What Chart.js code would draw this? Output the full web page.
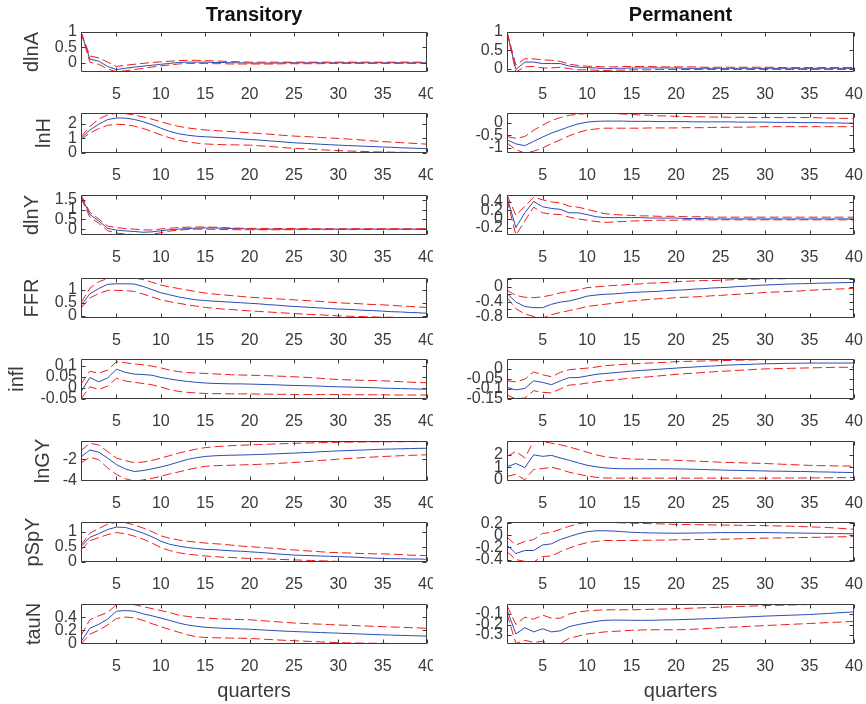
<!DOCTYPE html>
<html>
<head>
<meta charset="utf-8">
<title>Impulse responses: transitory vs permanent</title>
<script src="https://cdn.jsdelivr.net/npm/chart.js"></script>
<style>
  body { margin: 0; background: #fff; }
  #fig { position: relative; width: 866px; height: 704px; overflow: hidden; background: #fff; }
  #fig canvas { position: absolute; }
</style>
</head>
<body>
<div id="fig"></div>
<script>
// x axis
const quarters = [1, 2, 3, 4, 5, 6, 7, 8, 9, 10, 11, 12, 13, 14, 15, 16, 17, 18, 19, 20,
  21, 22, 23, 24, 25, 26, 27, 28, 29, 30, 31, 32, 33, 34, 35, 36, 37, 38, 39, 40];
const quarterTicks = [5, 10, 15, 20, 25, 30, 35, 40];
const columnTitles = ['Transitory', 'Permanent'];

// ---- Transitory shock: median (mid) and bands (up / lo) ----
const trDlnA = [1.00, 0.12, 0.05, -0.12, -0.22, -0.18, -0.14, -0.11, -0.08, -0.05,
  -0.02, 0.01, 0.02, 0.02, 0.02, 0.01, 0.01, 0.00, 0.00, -0.01,
  -0.01, -0.01, -0.01, 0.00, 0.00, 0.00, 0.00, 0.00, 0.00, 0.00,
  0.00, 0.00, 0.00, 0.00, 0.00, 0.00, 0.00, 0.00, 0.00, 0.00];
const trDlnAUp = [1.00, 0.22, 0.16, 0.02, -0.12, -0.08, -0.05, -0.02, 0.01, 0.03,
  0.05, 0.07, 0.08, 0.08, 0.07, 0.06, 0.05, 0.04, 0.03, 0.02,
  0.02, 0.02, 0.02, 0.02, 0.02, 0.02, 0.02, 0.02, 0.02, 0.02,
  0.02, 0.02, 0.02, 0.02, 0.02, 0.02, 0.02, 0.02, 0.02, 0.02];
const trDlnALo = [1.00, 0.02, -0.05, -0.20, -0.29, -0.26, -0.22, -0.18, -0.14, -0.10,
  -0.07, -0.04, -0.02, -0.02, -0.02, -0.03, -0.03, -0.04, -0.04, -0.04,
  -0.04, -0.04, -0.04, -0.03, -0.03, -0.03, -0.03, -0.03, -0.02, -0.02,
  -0.02, -0.02, -0.02, -0.02, -0.02, -0.02, -0.02, -0.02, -0.02, -0.02];

const trLnH = [1.00, 1.55, 1.95, 2.27, 2.38, 2.37, 2.28, 2.12, 1.92, 1.68,
  1.46, 1.30, 1.20, 1.13, 1.09, 1.06, 1.03, 0.99, 0.95, 0.91,
  0.87, 0.82, 0.78, 0.73, 0.68, 0.65, 0.62, 0.58, 0.55, 0.52,
  0.49, 0.47, 0.44, 0.42, 0.39, 0.37, 0.34, 0.32, 0.30, 0.27];
const trLnHUp = [1.10, 1.80, 2.30, 2.60, 2.70, 2.68, 2.58, 2.45, 2.30, 2.12,
  1.95, 1.80, 1.70, 1.62, 1.56, 1.52, 1.48, 1.44, 1.40, 1.36,
  1.32, 1.28, 1.23, 1.18, 1.14, 1.11, 1.08, 1.04, 1.01, 0.98,
  0.94, 0.90, 0.85, 0.80, 0.76, 0.73, 0.69, 0.66, 0.62, 0.59];
const trLnHLo = [0.90, 1.35, 1.65, 1.88, 1.95, 1.92, 1.82, 1.66, 1.45, 1.22,
  1.02, 0.85, 0.74, 0.66, 0.60, 0.57, 0.55, 0.54, 0.53, 0.52,
  0.48, 0.44, 0.39, 0.34, 0.30, 0.27, 0.23, 0.20, 0.17, 0.14,
  0.12, 0.10, 0.08, 0.06, 0.05, 0.04, 0.03, 0.02, 0.01, 0.00];

const trDlnY = [1.68, 0.75, 0.42, 0.04, -0.05, -0.09, -0.12, -0.16, -0.14, -0.08,
  -0.03, 0.00, 0.03, 0.05, 0.06, 0.06, 0.05, 0.03, 0.02, 0.01,
  0.00, 0.00, 0.00, 0.00, 0.00, 0.00, 0.00, 0.00, 0.00, 0.00,
  0.00, 0.00, 0.00, 0.00, 0.00, 0.00, 0.00, 0.00, 0.00, 0.00];
const trDlnYUp = [1.75, 0.86, 0.52, 0.16, 0.08, 0.03, 0.00, -0.04, -0.04, 0.01,
  0.05, 0.08, 0.10, 0.11, 0.11, 0.10, 0.08, 0.06, 0.05, 0.04,
  0.04, 0.03, 0.03, 0.03, 0.03, 0.03, 0.02, 0.02, 0.02, 0.02,
  0.02, 0.02, 0.02, 0.02, 0.02, 0.02, 0.02, 0.02, 0.02, 0.02];
const trDlnYLo = [1.60, 0.62, 0.30, -0.08, -0.20, -0.25, -0.28, -0.30, -0.27, -0.18,
  -0.10, -0.05, -0.02, 0.00, 0.00, -0.01, -0.02, -0.03, -0.03, -0.03,
  -0.03, -0.03, -0.03, -0.03, -0.03, -0.02, -0.02, -0.02, -0.02, -0.02,
  -0.02, -0.02, -0.02, -0.02, -0.01, -0.01, -0.01, -0.01, -0.01, -0.01];

const trFFR = [0.39, 0.84, 1.04, 1.20, 1.22, 1.22, 1.21, 1.12, 1.00, 0.88,
  0.80, 0.72, 0.66, 0.61, 0.58, 0.56, 0.54, 0.52, 0.50, 0.48,
  0.46, 0.43, 0.41, 0.38, 0.36, 0.34, 0.32, 0.30, 0.28, 0.26,
  0.25, 0.23, 0.21, 0.20, 0.18, 0.16, 0.15, 0.13, 0.12, 0.10];
const trFFRUp = [0.50, 1.05, 1.30, 1.42, 1.44, 1.44, 1.44, 1.38, 1.28, 1.17,
  1.10, 1.04, 0.98, 0.92, 0.87, 0.83, 0.80, 0.77, 0.74, 0.71,
  0.69, 0.67, 0.65, 0.63, 0.61, 0.59, 0.57, 0.55, 0.52, 0.50,
  0.48, 0.47, 0.45, 0.43, 0.42, 0.40, 0.38, 0.36, 0.34, 0.32];
const trFFRLo = [0.30, 0.68, 0.85, 0.97, 0.97, 0.96, 0.93, 0.83, 0.72, 0.61,
  0.54, 0.48, 0.42, 0.37, 0.32, 0.29, 0.26, 0.24, 0.21, 0.19,
  0.17, 0.15, 0.13, 0.11, 0.09, 0.07, 0.05, 0.04, 0.02, 0.00,
  -0.01, -0.02, -0.03, -0.04, -0.05, -0.05, -0.06, -0.07, -0.07, -0.08];

const trInfl = [-0.018, 0.047, 0.027, 0.045, 0.084, 0.070, 0.062, 0.060, 0.057, 0.047,
  0.040, 0.034, 0.029, 0.025, 0.022, 0.020, 0.019, 0.018, 0.018, 0.017,
  0.016, 0.015, 0.014, 0.012, 0.011, 0.010, 0.009, 0.008, 0.006, 0.005,
  0.004, 0.003, 0.002, 0.001, -0.001, -0.002, -0.003, -0.004, -0.005, -0.006];
const trInflUp = [0.017, 0.075, 0.066, 0.080, 0.117, 0.113, 0.108, 0.104, 0.098, 0.090,
  0.080, 0.073, 0.069, 0.067, 0.065, 0.063, 0.061, 0.059, 0.058, 0.057,
  0.056, 0.055, 0.053, 0.052, 0.050, 0.048, 0.046, 0.043, 0.040, 0.038,
  0.036, 0.035, 0.034, 0.033, 0.032, 0.030, 0.028, 0.026, 0.024, 0.023];
const trInflLo = [-0.050, 0.005, -0.007, 0.008, 0.043, 0.031, 0.025, 0.020, 0.014, 0.004,
  -0.008, -0.016, -0.020, -0.023, -0.025, -0.026, -0.026, -0.027, -0.027, -0.027,
  -0.028, -0.028, -0.029, -0.029, -0.030, -0.030, -0.030, -0.030, -0.030, -0.030,
  -0.031, -0.031, -0.031, -0.031, -0.031, -0.032, -0.032, -0.032, -0.032, -0.032];

const trLnGY = [-1.78, -1.10, -1.31, -1.87, -2.50, -2.90, -3.15, -3.06, -2.90, -2.72,
  -2.50, -2.25, -2.00, -1.84, -1.72, -1.66, -1.62, -1.60, -1.58, -1.56,
  -1.53, -1.50, -1.47, -1.43, -1.40, -1.36, -1.32, -1.27, -1.23, -1.19,
  -1.16, -1.13, -1.10, -1.06, -1.03, -1.01, -0.99, -0.97, -0.95, -0.94];
const trLnGYUp = [-1.16, -0.47, -0.63, -1.25, -1.87, -2.12, -2.30, -2.25, -2.10, -1.88,
  -1.64, -1.40, -1.20, -1.02, -0.88, -0.80, -0.74, -0.69, -0.65, -0.62,
  -0.59, -0.56, -0.53, -0.50, -0.47, -0.45, -0.43, -0.41, -0.39, -0.37,
  -0.36, -0.35, -0.34, -0.33, -0.33, -0.32, -0.32, -0.31, -0.31, -0.30];
const trLnGYLo = [-2.34, -1.78, -2.03, -2.81, -3.44, -3.84, -4.05, -3.95, -3.80, -3.60,
  -3.38, -3.19, -2.98, -2.80, -2.66, -2.60, -2.57, -2.55, -2.52, -2.50,
  -2.47, -2.43, -2.39, -2.34, -2.29, -2.23, -2.17, -2.10, -2.04, -1.97,
  -1.92, -1.87, -1.82, -1.77, -1.72, -1.69, -1.65, -1.62, -1.59, -1.56];

const trPSpY = [0.50, 0.81, 0.93, 1.07, 1.15, 1.14, 1.05, 0.95, 0.83, 0.68,
  0.58, 0.52, 0.47, 0.44, 0.41, 0.40, 0.38, 0.36, 0.35, 0.33,
  0.31, 0.29, 0.26, 0.24, 0.22, 0.21, 0.20, 0.19, 0.18, 0.17,
  0.16, 0.15, 0.13, 0.12, 0.11, 0.10, 0.10, 0.09, 0.09, 0.08];
const trPSpYUp = [0.55, 0.95, 1.10, 1.25, 1.31, 1.30, 1.22, 1.12, 1.00, 0.86,
  0.78, 0.72, 0.68, 0.65, 0.62, 0.60, 0.58, 0.55, 0.52, 0.50,
  0.48, 0.46, 0.44, 0.41, 0.39, 0.37, 0.35, 0.33, 0.31, 0.30,
  0.29, 0.28, 0.27, 0.26, 0.26, 0.25, 0.24, 0.22, 0.21, 0.20];
const trPSpYLo = [0.40, 0.70, 0.80, 0.90, 0.97, 0.93, 0.85, 0.75, 0.62, 0.47,
  0.37, 0.30, 0.25, 0.22, 0.19, 0.17, 0.15, 0.14, 0.12, 0.11,
  0.10, 0.09, 0.08, 0.07, 0.06, 0.05, 0.04, 0.03, 0.02, 0.01,
  0.00, 0.00, 0.00, 0.00, 0.00, 0.00, 0.00, 0.00, 0.00, 0.00];

const trTauN = [0.025, 0.23, 0.29, 0.37, 0.49, 0.50, 0.49, 0.45, 0.42, 0.385,
  0.35, 0.31, 0.28, 0.26, 0.245, 0.237, 0.23, 0.225, 0.22, 0.215,
  0.208, 0.20, 0.193, 0.186, 0.18, 0.175, 0.17, 0.165, 0.16, 0.155,
  0.15, 0.145, 0.14, 0.135, 0.13, 0.126, 0.122, 0.118, 0.114, 0.11];
const trTauNUp = [0.12, 0.36, 0.42, 0.47, 0.59, 0.60, 0.59, 0.56, 0.53, 0.50,
  0.47, 0.43, 0.41, 0.395, 0.385, 0.378, 0.372, 0.366, 0.363, 0.36,
  0.35, 0.34, 0.33, 0.32, 0.31, 0.304, 0.298, 0.292, 0.286, 0.28,
  0.275, 0.27, 0.265, 0.26, 0.255, 0.25, 0.245, 0.24, 0.235, 0.23];
const trTauNLo = [-0.01, 0.14, 0.20, 0.28, 0.38, 0.40, 0.39, 0.35, 0.30, 0.255,
  0.21, 0.17, 0.13, 0.10, 0.09, 0.085, 0.082, 0.08, 0.078, 0.075,
  0.068, 0.06, 0.053, 0.046, 0.04, 0.034, 0.028, 0.022, 0.016, 0.01,
  0.007, 0.005, 0.003, 0.001, 0.00, -0.002, -0.004, -0.006, -0.008, -0.01];

// ---- Permanent shock ----
const peDlnA = [1.00, -0.02, 0.18, 0.18, 0.14, 0.14, 0.14, 0.07, 0.04, 0.03,
  0.02, 0.00, 0.01, 0.01, 0.02, 0.02, 0.02, 0.02, 0.02, 0.02,
  0.01, 0.01, 0.01, 0.01, 0.01, 0.01, 0.01, 0.01, 0.01, 0.01,
  0.01, 0.01, 0.01, 0.01, 0.01, 0.01, 0.01, 0.01, 0.01, 0.01];
const peDlnAUp = [1.00, 0.10, 0.27, 0.27, 0.24, 0.23, 0.20, 0.12, 0.09, 0.07,
  0.06, 0.05, 0.05, 0.06, 0.06, 0.06, 0.06, 0.05, 0.05, 0.05,
  0.05, 0.05, 0.04, 0.04, 0.04, 0.04, 0.04, 0.04, 0.04, 0.04,
  0.04, 0.03, 0.03, 0.03, 0.03, 0.03, 0.03, 0.03, 0.03, 0.03];
const peDlnALo = [1.00, -0.09, 0.05, 0.06, 0.02, 0.02, 0.04, 0.00, -0.03, -0.03,
  -0.04, -0.05, -0.04, -0.04, -0.03, -0.03, -0.03, -0.02, -0.02, -0.02,
  -0.02, -0.02, -0.02, -0.02, -0.02, -0.02, -0.02, -0.02, -0.02, -0.02,
  -0.02, -0.02, -0.02, -0.02, -0.02, -0.02, -0.02, -0.02, -0.02, -0.02];

const peLnH = [-0.68, -0.84, -0.91, -0.74, -0.57, -0.41, -0.29, -0.16, -0.05, 0.02,
  0.05, 0.06, 0.06, 0.06, 0.05, 0.05, 0.05, 0.04, 0.04, 0.04,
  0.04, 0.03, 0.03, 0.03, 0.03, 0.03, 0.02, 0.02, 0.02, 0.02,
  0.01, 0.01, 0.01, 0.00, 0.00, 0.00, -0.01, -0.01, -0.02, -0.02];
const peLnHUp = [-0.55, -0.62, -0.55, -0.30, -0.10, 0.08, 0.20, 0.29, 0.33, 0.36,
  0.37, 0.37, 0.36, 0.34, 0.32, 0.30, 0.29, 0.27, 0.26, 0.25,
  0.24, 0.23, 0.23, 0.22, 0.22, 0.21, 0.21, 0.21, 0.20, 0.20,
  0.20, 0.20, 0.20, 0.20, 0.20, 0.19, 0.18, 0.17, 0.17, 0.16];
const peLnHLo = [-0.80, -1.07, -1.20, -1.13, -1.00, -0.83, -0.68, -0.52, -0.39, -0.29,
  -0.25, -0.22, -0.22, -0.22, -0.22, -0.22, -0.21, -0.21, -0.21, -0.21,
  -0.20, -0.20, -0.20, -0.19, -0.19, -0.18, -0.18, -0.18, -0.17, -0.16,
  -0.16, -0.16, -0.16, -0.16, -0.16, -0.16, -0.16, -0.16, -0.16, -0.16];

const peDlnY = [0.50, -0.20, 0.14, 0.40, 0.28, 0.24, 0.22, 0.14, 0.14, 0.10,
  0.05, 0.03, 0.03, 0.03, 0.03, 0.03, 0.02, 0.02, 0.02, 0.02,
  0.01, 0.01, 0.01, 0.00, 0.00, 0.00, 0.00, 0.00, 0.00, 0.00,
  0.00, 0.00, 0.00, 0.00, 0.00, 0.00, 0.00, 0.00, 0.00, 0.00];
const peDlnYUp = [0.55, 0.08, 0.29, 0.50, 0.44, 0.39, 0.37, 0.29, 0.27, 0.22,
  0.17, 0.12, 0.10, 0.09, 0.08, 0.07, 0.07, 0.06, 0.06, 0.06,
  0.05, 0.05, 0.05, 0.04, 0.04, 0.04, 0.04, 0.04, 0.04, 0.04,
  0.04, 0.04, 0.04, 0.04, 0.04, 0.04, 0.04, 0.04, 0.04, 0.04];
const peDlnYLo = [0.45, -0.37, -0.05, 0.27, 0.14, 0.11, 0.10, 0.04, 0.00, -0.03,
  -0.06, -0.08, -0.07, -0.06, -0.05, -0.04, -0.04, -0.03, -0.03, -0.03,
  -0.02, -0.02, -0.02, -0.02, -0.02, -0.02, -0.02, -0.02, -0.02, -0.02,
  -0.02, -0.02, -0.02, -0.02, -0.02, -0.02, -0.02, -0.02, -0.02, -0.02];

const peFFR = [-0.18, -0.41, -0.53, -0.56, -0.56, -0.47, -0.41, -0.38, -0.32, -0.25,
  -0.22, -0.20, -0.19, -0.17, -0.15, -0.14, -0.13, -0.12, -0.10, -0.09,
  -0.08, -0.06, -0.05, -0.03, -0.02, -0.01, 0.01, 0.02, 0.04, 0.05,
  0.06, 0.07, 0.08, 0.085, 0.09, 0.10, 0.105, 0.11, 0.115, 0.12];
const peFFRUp = [-0.09, -0.23, -0.28, -0.29, -0.27, -0.22, -0.16, -0.12, -0.08, -0.02,
  0.00, 0.02, 0.04, 0.05, 0.07, 0.08, 0.10, 0.11, 0.12, 0.14,
  0.15, 0.16, 0.17, 0.17, 0.18, 0.19, 0.20, 0.20, 0.21, 0.22,
  0.22, 0.22, 0.23, 0.23, 0.23, 0.23, 0.24, 0.24, 0.24, 0.24];
const peFFRLo = [-0.29, -0.59, -0.73, -0.80, -0.84, -0.75, -0.69, -0.64, -0.59, -0.53,
  -0.50, -0.47, -0.44, -0.41, -0.38, -0.36, -0.34, -0.32, -0.31, -0.29,
  -0.28, -0.27, -0.26, -0.24, -0.23, -0.21, -0.20, -0.18, -0.17, -0.15,
  -0.14, -0.13, -0.12, -0.11, -0.09, -0.08, -0.07, -0.06, -0.05, -0.04];

const peInfl = [-0.093, -0.105, -0.098, -0.060, -0.068, -0.079, -0.060, -0.044, -0.044, -0.036,
  -0.028, -0.024, -0.020, -0.016, -0.012, -0.009, -0.006, -0.003, 0.000, 0.003,
  0.006, 0.008, 0.011, 0.013, 0.016, 0.018, 0.020, 0.021, 0.023, 0.024,
  0.025, 0.026, 0.027, 0.027, 0.028, 0.028, 0.028, 0.028, 0.028, 0.028];
const peInflUp = [-0.060, -0.065, -0.052, -0.016, -0.030, -0.040, -0.018, -0.005, -0.001, 0.003,
  0.008, 0.015, 0.018, 0.021, 0.024, 0.026, 0.028, 0.030, 0.032, 0.035,
  0.036, 0.037, 0.038, 0.039, 0.040, 0.041, 0.042, 0.043, 0.044, 0.045,
  0.045, 0.046, 0.046, 0.046, 0.046, 0.047, 0.047, 0.047, 0.047, 0.047];
const peInflLo = [-0.130, -0.150, -0.145, -0.109, -0.117, -0.120, -0.100, -0.081, -0.078, -0.071,
  -0.066, -0.060, -0.056, -0.051, -0.047, -0.044, -0.040, -0.036, -0.032, -0.028,
  -0.025, -0.022, -0.019, -0.016, -0.013, -0.011, -0.008, -0.006, -0.003, -0.001,
  0.000, 0.001, 0.002, 0.003, 0.004, 0.005, 0.006, 0.007, 0.007, 0.008];

const peLnGY = [1.04, 1.30, 0.97, 2.00, 1.87, 1.95, 1.74, 1.56, 1.35, 1.16,
  1.04, 0.95, 0.90, 0.88, 0.88, 0.88, 0.88, 0.88, 0.88, 0.87,
  0.86, 0.84, 0.82, 0.80, 0.78, 0.76, 0.75, 0.73, 0.72, 0.70,
  0.69, 0.68, 0.67, 0.66, 0.65, 0.63, 0.62, 0.60, 0.59, 0.57];
const peLnGYUp = [1.87, 2.26, 1.75, 3.09, 3.05, 2.92, 2.80, 2.62, 2.42, 2.20,
  2.00, 1.84, 1.76, 1.70, 1.66, 1.64, 1.62, 1.60, 1.58, 1.56,
  1.53, 1.50, 1.47, 1.44, 1.40, 1.38, 1.36, 1.34, 1.32, 1.30,
  1.27, 1.24, 1.21, 1.18, 1.15, 1.13, 1.12, 1.11, 1.10, 1.09];
const peLnGYLo = [0.26, 0.44, 0.00, 0.83, 0.89, 1.00, 0.83, 0.60, 0.45, 0.30,
  0.20, 0.14, 0.13, 0.13, 0.13, 0.13, 0.13, 0.13, 0.13, 0.13,
  0.13, 0.13, 0.13, 0.13, 0.13, 0.13, 0.13, 0.13, 0.13, 0.13,
  0.13, 0.14, 0.14, 0.14, 0.15, 0.15, 0.16, 0.17, 0.17, 0.18];

const pePSpY = [-0.16, -0.30, -0.25, -0.25, -0.16, -0.14, -0.07, -0.02, 0.025, 0.06,
  0.075, 0.075, 0.07, 0.06, 0.05, 0.045, 0.04, 0.038, 0.036, 0.035,
  0.036, 0.038, 0.04, 0.042, 0.045, 0.045, 0.045, 0.045, 0.045, 0.045,
  0.043, 0.041, 0.039, 0.037, 0.035, 0.033, 0.031, 0.029, 0.027, 0.025];
const pePSpYUp = [-0.03, -0.16, -0.10, -0.07, 0.03, 0.05, 0.10, 0.15, 0.19, 0.21,
  0.22, 0.215, 0.21, 0.205, 0.20, 0.197, 0.193, 0.19, 0.185, 0.18,
  0.178, 0.176, 0.174, 0.172, 0.17, 0.168, 0.166, 0.164, 0.162, 0.16,
  0.157, 0.154, 0.15, 0.145, 0.14, 0.135, 0.13, 0.12, 0.11, 0.10];
const pePSpYLo = [-0.27, -0.40, -0.43, -0.44, -0.35, -0.34, -0.27, -0.21, -0.16, -0.12,
  -0.10, -0.085, -0.085, -0.085, -0.085, -0.083, -0.081, -0.079, -0.077, -0.074,
  -0.072, -0.07, -0.068, -0.066, -0.065, -0.062, -0.058, -0.054, -0.05, -0.046,
  -0.044, -0.042, -0.039, -0.037, -0.035, -0.032, -0.029, -0.026, -0.023, -0.02];

const peTauN = [-0.06, -0.29, -0.23, -0.27, -0.24, -0.27, -0.26, -0.22, -0.20, -0.185,
  -0.17, -0.16, -0.158, -0.158, -0.16, -0.16, -0.16, -0.158, -0.156, -0.155,
  -0.152, -0.149, -0.146, -0.143, -0.14, -0.136, -0.132, -0.128, -0.124, -0.12,
  -0.117, -0.114, -0.111, -0.108, -0.105, -0.10, -0.095, -0.09, -0.085, -0.08];
const peTauNUp = [-0.02, -0.20, -0.13, -0.15, -0.11, -0.14, -0.14, -0.10, -0.08, -0.07,
  -0.065, -0.06, -0.06, -0.06, -0.06, -0.058, -0.056, -0.054, -0.052, -0.05,
  -0.047, -0.044, -0.041, -0.038, -0.035, -0.032, -0.029, -0.026, -0.023, -0.02,
  -0.018, -0.016, -0.014, -0.012, -0.01, -0.009, -0.008, -0.007, -0.006, -0.005];
const peTauNLo = [-0.10, -0.38, -0.35, -0.37, -0.36, -0.385, -0.38, -0.33, -0.31, -0.29,
  -0.28, -0.27, -0.265, -0.26, -0.255, -0.252, -0.25, -0.25, -0.25, -0.25,
  -0.248, -0.244, -0.24, -0.235, -0.23, -0.226, -0.222, -0.218, -0.214, -0.21,
  -0.206, -0.202, -0.198, -0.194, -0.19, -0.186, -0.182, -0.178, -0.174, -0.17];

// panels: axis limits / ticks, lx = x centre of the ylabel
const transitory = [
  { label: 'dlnA', mid: trDlnA, up: trDlnAUp, lo: trDlnALo, min: -0.3, max: 1, ticks: [0, 0.5, 1], lx: 32 },
  { label: 'lnH', mid: trLnH, up: trLnHUp, lo: trLnHLo, min: -0.02, max: 2.72, ticks: [0, 1, 2], lx: 44 },
  { label: 'dlnY', mid: trDlnY, up: trDlnYUp, lo: trDlnYLo, min: -0.3, max: 1.75, ticks: [0, 0.5, 1, 1.5], lx: 32 },
  { label: 'FFR', mid: trFFR, up: trFFRUp, lo: trFFRLo, min: -0.08, max: 1.44, ticks: [0, 0.5, 1], lx: 32 },
  { label: 'infl', mid: trInfl, up: trInflUp, lo: trInflLo, min: -0.05, max: 0.13, ticks: [-0.05, 0, 0.05, 0.1], lx: 17 },
  { label: 'lnGY', mid: trLnGY, up: trLnGYUp, lo: trLnGYLo, min: -4.05, max: -0.25, ticks: [-4, -2], lx: 43 },
  { label: 'pSpY', mid: trPSpY, up: trPSpYUp, lo: trPSpYLo, min: -0.01, max: 1.32, ticks: [0, 0.5, 1], lx: 33 },
  { label: 'tauN', mid: trTauN, up: trTauNUp, lo: trTauNLo, min: -0.01, max: 0.6, ticks: [0, 0.2, 0.4], lx: 34 }
];
const permanent = [
  { mid: peDlnA, up: peDlnAUp, lo: peDlnALo, min: -0.09, max: 1, ticks: [0, 0.5, 1] },
  { mid: peLnH, up: peLnHUp, lo: peLnHLo, min: -1.2, max: 0.38, ticks: [-1, -0.5, 0] },
  { mid: peDlnY, up: peDlnYUp, lo: peDlnYLo, min: -0.37, max: 0.55, ticks: [-0.2, 0, 0.2, 0.4] },
  { mid: peFFR, up: peFFRUp, lo: peFFRLo, min: -0.84, max: 0.24, ticks: [-0.8, -0.6, -0.4, -0.2, 0, 0.2], shown: [-0.8, -0.4, 0] },
  { mid: peInfl, up: peInflUp, lo: peInflLo, min: -0.15, max: 0.048, ticks: [-0.15, -0.1, -0.05, 0] },
  { mid: peLnGY, up: peLnGYUp, lo: peLnGYLo, min: -0.1, max: 3.1, ticks: [0, 1, 2] },
  { mid: pePSpY, up: pePSpYUp, lo: pePSpYLo, min: -0.44, max: 0.22, ticks: [-0.4, -0.2, 0, 0.2] },
  { mid: peTauN, up: peTauNUp, lo: peTauNLo, min: -0.385, max: -0.005, ticks: [-0.3, -0.2, -0.1] }
];

const FONT = '"Liberation Sans", Arial, Helvetica, sans-serif';
const BLUE = '#2b4bb5';
const RED = '#f01c1c';
const TEXT = '#3a3a3a';
const AXIS = '#3a3a3a';
const ROW_TOPS = [32, 113, 195, 278, 359, 441, 522, 604];
const AREA_H = 40;

// MATLAB-like box with inward tick marks, plus the column title
const matlabBox = {
  id: 'matlabBox',
  afterDraw(chart, args, opts) {
    const { ctx, chartArea: a, scales: { x, y } } = chart;
    const L = Math.round(a.left) + 0.5, R = Math.round(a.right) - 0.5;
    const T = Math.round(a.top) + 0.5, B = Math.round(a.bottom) - 0.5;
    const tl = 4;
    ctx.save();
    ctx.strokeStyle = AXIS;
    ctx.lineWidth = 1;
    ctx.beginPath();
    ctx.rect(L, T, R - L, B - T);
    x.ticks.forEach(t => {
      const px = Math.round(x.getPixelForValue(t.value)) + 0.5;
      ctx.moveTo(px, B); ctx.lineTo(px, B - tl);
      ctx.moveTo(px, T); ctx.lineTo(px, T + tl);
    });
    y.ticks.forEach(t => {
      const py = Math.round(y.getPixelForValue(t.value)) + 0.5;
      ctx.moveTo(L, py); ctx.lineTo(L + tl, py);
      ctx.moveTo(R, py); ctx.lineTo(R - tl, py);
    });
    ctx.stroke();
    if (opts.title) {
      ctx.font = 'bold 20px ' + FONT;
      ctx.fillStyle = '#111';
      ctx.textAlign = 'center';
      ctx.textBaseline = 'middle';
      ctx.fillText(opts.title, (a.left + a.right) / 2, a.top - 17);
    }
    ctx.restore();
  }
};

const fig = document.getElementById('fig');

function makePanel(p, row, col) {
  const last = row === ROW_TOPS.length - 1;
  const padTop = row === 0 ? ROW_TOPS[0] : 12;
  const xh = last ? 60 : 30;
  const yw = col === 0 ? 81 : 74;
  const canvas = document.createElement('canvas');
  const w = 433, h = padTop + AREA_H + xh;
  canvas.width = w;
  canvas.height = h;
  canvas.style.left = (col === 0 ? 0 : 433) + 'px';
  canvas.style.top = (ROW_TOPS[row] - padTop) + 'px';
  canvas.style.width = w + 'px';
  canvas.style.height = h + 'px';
  fig.appendChild(canvas);

  const dashed = data => ({ data, borderColor: RED, borderWidth: 1, borderDash: [9, 4] });

  new Chart(canvas, {
    type: 'line',
    data: {
      labels: quarters,
      datasets: [
        dashed(p.up),
        dashed(p.lo),
        { data: p.mid, borderColor: BLUE, borderWidth: 1 }
      ]
    },
    options: {
      responsive: false,
      animation: false,
      events: [],
      layout: { padding: { top: padTop, right: col === 0 ? 6 : 12, left: 0, bottom: 0 } },
      elements: { point: { radius: 0 }, line: { tension: 0 } },
      plugins: {
        legend: { display: false },
        tooltip: { enabled: false },
        matlabBox: { title: row === 0 ? columnTitles[col] : null }
      },
      scales: {
        x: {
          type: 'linear', min: 1, max: 40,
          grid: { display: false, drawTicks: false },
          border: { display: false },
          afterBuildTicks: s => { s.ticks = quarterTicks.map(v => ({ value: v })); },
          afterFit: s => { s.height = xh; s.paddingLeft = 0; s.paddingRight = 0; },
          ticks: {
            autoSkip: false, maxRotation: 0, padding: 13, color: TEXT,
            font: { family: FONT, size: 16 },
            callback: v => String(v)
          },
          title: {
            display: last, text: 'quarters', color: TEXT,
            font: { family: FONT, size: 20 },
            padding: { top: 0, bottom: 1 }
          }
        },
        y: {
          min: p.min, max: p.max,
          grid: { display: false, drawTicks: false },
          border: { display: false },
          afterBuildTicks: s => { s.ticks = p.ticks.map(v => ({ value: v })); },
          afterFit: s => { s.width = yw; s.paddingTop = 0; s.paddingBottom = 0; },
          ticks: {
            autoSkip: false, padding: 4, color: TEXT,
            font: { family: FONT, size: 16 },
            callback: v => (!p.shown || p.shown.includes(v)) ? String(v) : ''
          },
          title: {
            display: col === 0, text: p.label || '', color: TEXT,
            font: { family: FONT, size: 20 },
            padding: { top: (p.lx || 30) - 12, bottom: 0 }
          }
        }
      }
    },
    plugins: [matlabBox]
  });
}

transitory.forEach((p, i) => makePanel(p, i, 0));
permanent.forEach((p, i) => makePanel(p, i, 1));
</script>
</body>
</html>
